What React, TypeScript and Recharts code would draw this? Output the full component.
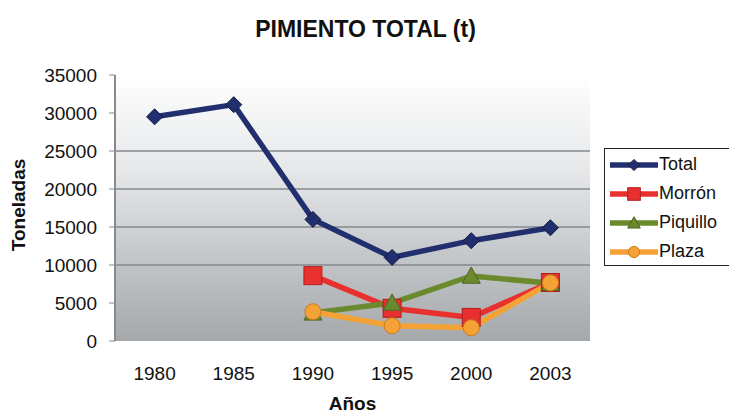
import React from "react";
import {
  LineChart,
  Line,
  XAxis,
  YAxis,
  CartesianGrid,
  Legend,
} from "recharts";

const years = ["1980", "1985", "1990", "1995", "2000", "2003"];
const total = [29500, 31100, 16000, 11000, 13200, 14900];
const morron = [null, null, 8600, 4300, 3100, 7700];
const piquillo = [null, null, 3700, 5000, 8550, 7600];
const plaza = [null, null, 3850, 2000, 1750, 7650];
const yTicks = [0, 5000, 10000, 15000, 20000, 25000, 30000, 35000];
const gridValues = [10000, 15000, 20000, 25000];

const series = [
  { key: "total", name: "Total", color: "#222f6e", shape: "diamond" },
  { key: "morron", name: "Morrón", color: "#e8312e", shape: "square" },
  { key: "piquillo", name: "Piquillo", color: "#6b8a2e", shape: "triangle" },
  { key: "plaza", name: "Plaza", color: "#f4a236", shape: "circle" },
];

const chartData = years.map((year, i) => ({
  year,
  total: total[i],
  morron: morron[i],
  piquillo: piquillo[i],
  plaza: plaza[i],
}));

const FONT = '"Liberation Sans", Arial, sans-serif';

function Marker({ shape, cx, cy, color, scale = 1 }: any) {
  if (cx == null || cy == null) return null;
  if (shape === "diamond") {
    const s = 8 * scale;
    return (
      <polygon
        points={`${cx},${cy - s} ${cx + s},${cy} ${cx},${cy + s} ${cx - s},${cy}`}
        fill={color}
        stroke="#111a40"
        strokeWidth={1}
      />
    );
  }
  if (shape === "square") {
    const s = 9 * scale;
    return (
      <rect
        x={cx - s}
        y={cy - s}
        width={s * 2}
        height={s * 2}
        fill={color}
        stroke="#b21e1c"
        strokeWidth={1}
      />
    );
  }
  if (shape === "triangle") {
    const s = 9 * scale;
    return (
      <polygon
        points={`${cx},${cy - s} ${cx + s},${cy + s * 0.8} ${cx - s},${cy + s * 0.8}`}
        fill={color}
        stroke="#4c6420"
        strokeWidth={1}
      />
    );
  }
  return (
    <circle
      cx={cx}
      cy={cy}
      r={8 * scale}
      fill={color}
      stroke="#c97c1c"
      strokeWidth={1}
    />
  );
}

function makeDot(shape: string, color: string) {
  return (props: any) => {
    const { cx, cy, value, index } = props;
    if (value == null) return <g key={index} />;
    return (
      <g key={index}>
        <Marker shape={shape} cx={cx} cy={cy} color={color} />
      </g>
    );
  };
}

function LegendBox() {
  return (
    <div
      style={{
        border: "1px solid #222",
        background: "#fff",
        width: 140,
        height: 118,
        boxSizing: "border-box",
        paddingTop: 1,
        fontFamily: FONT,
        fontSize: 18,
        color: "#111",
      }}
    >
      {series.map((s) => (
        <div
          key={s.key}
          style={{ display: "flex", alignItems: "center", height: 29 }}
        >
          <svg width={50} height={20} style={{ marginLeft: 4 }}>
            <line x1={1} y1={10} x2={49} y2={10} stroke={s.color} strokeWidth={5.5} />
            <Marker shape={s.shape} cx={25} cy={10} color={s.color} scale={0.7} />
          </svg>
          <span>{s.name}</span>
        </div>
      ))}
    </div>
  );
}

export default function App() {
  return (
    <div style={{ position: "relative", width: 729, height: 415, background: "#fff" }}>
      <style>{`body{margin:0}`}</style>
      <div
        style={{
          position: "absolute",
          left: 0,
          width: 731,
          top: 16,
          textAlign: "center",
          fontFamily: FONT,
          fontWeight: "bold",
          fontSize: 23,
          color: "#111",
        }}
      >
        PIMIENTO TOTAL (t)
      </div>
      <div
        style={{
          position: "absolute",
          left: 115,
          width: 475,
          top: 393,
          textAlign: "center",
          fontFamily: FONT,
          fontWeight: "bold",
          fontSize: 19,
          color: "#111",
        }}
      >
        Años
      </div>
      <div
        style={{
          position: "absolute",
          left: 19,
          top: 205,
          transform: "translate(-50%, -50%) rotate(-90deg)",
          fontFamily: FONT,
          fontWeight: "bold",
          fontSize: 19,
          color: "#111",
          whiteSpace: "nowrap",
        }}
      >
        Toneladas
      </div>
      <LineChart
        width={729}
        height={415}
        data={chartData}
        margin={{ top: 75, right: 139, bottom: 44, left: 0 }}
        style={{ position: "absolute", left: 0, top: 0 }}
      >
        <defs>
          <linearGradient id="plotBg" x1="0" y1="0" x2="0" y2="1">
            <stop offset="0%" stopColor="#ffffff" />
            <stop offset="35%" stopColor="#e6e8ea" />
            <stop offset="100%" stopColor="#a4a8ab" />
          </linearGradient>
        </defs>
        <CartesianGrid
          vertical={false}
          horizontalValues={gridValues}
          stroke="#85898c"
          strokeWidth={1.5}
          fill="url(#plotBg)"
          fillOpacity={1}
        />
        <XAxis
          xAxisId="bounds"
          type="number"
          domain={[0, 6]}
          ticks={[0, 1, 2, 3, 4, 5, 6]}
          height={0}
          tick={false}
          tickSize={6}
          tickLine={{ stroke: "#888" }}
          axisLine={{ stroke: "#8a8a8a", strokeWidth: 2 }}
        />
        <XAxis
          dataKey="year"
          height={30}
          padding={{ left: 39.6, right: 39.6 }}
          axisLine={false}
          tickLine={false}
          tickMargin={20}
          interval={0}
          tick={{ fontSize: 19, fill: "#111", fontFamily: FONT }}
        />
        <XAxis
          xAxisId="top"
          orientation="top"
          dataKey="year"
          height={0}
          tick={false}
          tickLine={false}
          axisLine={{ stroke: "#8a8a8a", strokeWidth: 2 }}
        />
        <YAxis
          width={115}
          domain={[0, 35000]}
          ticks={yTicks}
          interval={0}
          tickSize={6}
          tickMargin={12}
          tickLine={{ stroke: "#888" }}
          axisLine={{ stroke: "#8a8a8a", strokeWidth: 2 }}
          tick={{ fontSize: 19, fill: "#111", fontFamily: FONT }}
        />
        <YAxis
          yAxisId="right"
          orientation="right"
          width={0}
          tick={false}
          tickLine={false}
          axisLine={{ stroke: "#8a8a8a", strokeWidth: 2 }}
        />
        <Legend
          layout="horizontal"
          verticalAlign="middle"
          align="center"
          wrapperStyle={{ position: "absolute", left: 604, top: 148, width: 140 }}
          content={() => <LegendBox />}
        />
        {series.map((s) => (
          <Line
            key={s.key}
            dataKey={s.key}
            name={s.name}
            stroke={s.color}
            strokeWidth={5.5}
            dot={makeDot(s.shape, s.color)}
            activeDot={false}
            isAnimationActive={false}
          />
        ))}
      </LineChart>
    </div>
  );
}
